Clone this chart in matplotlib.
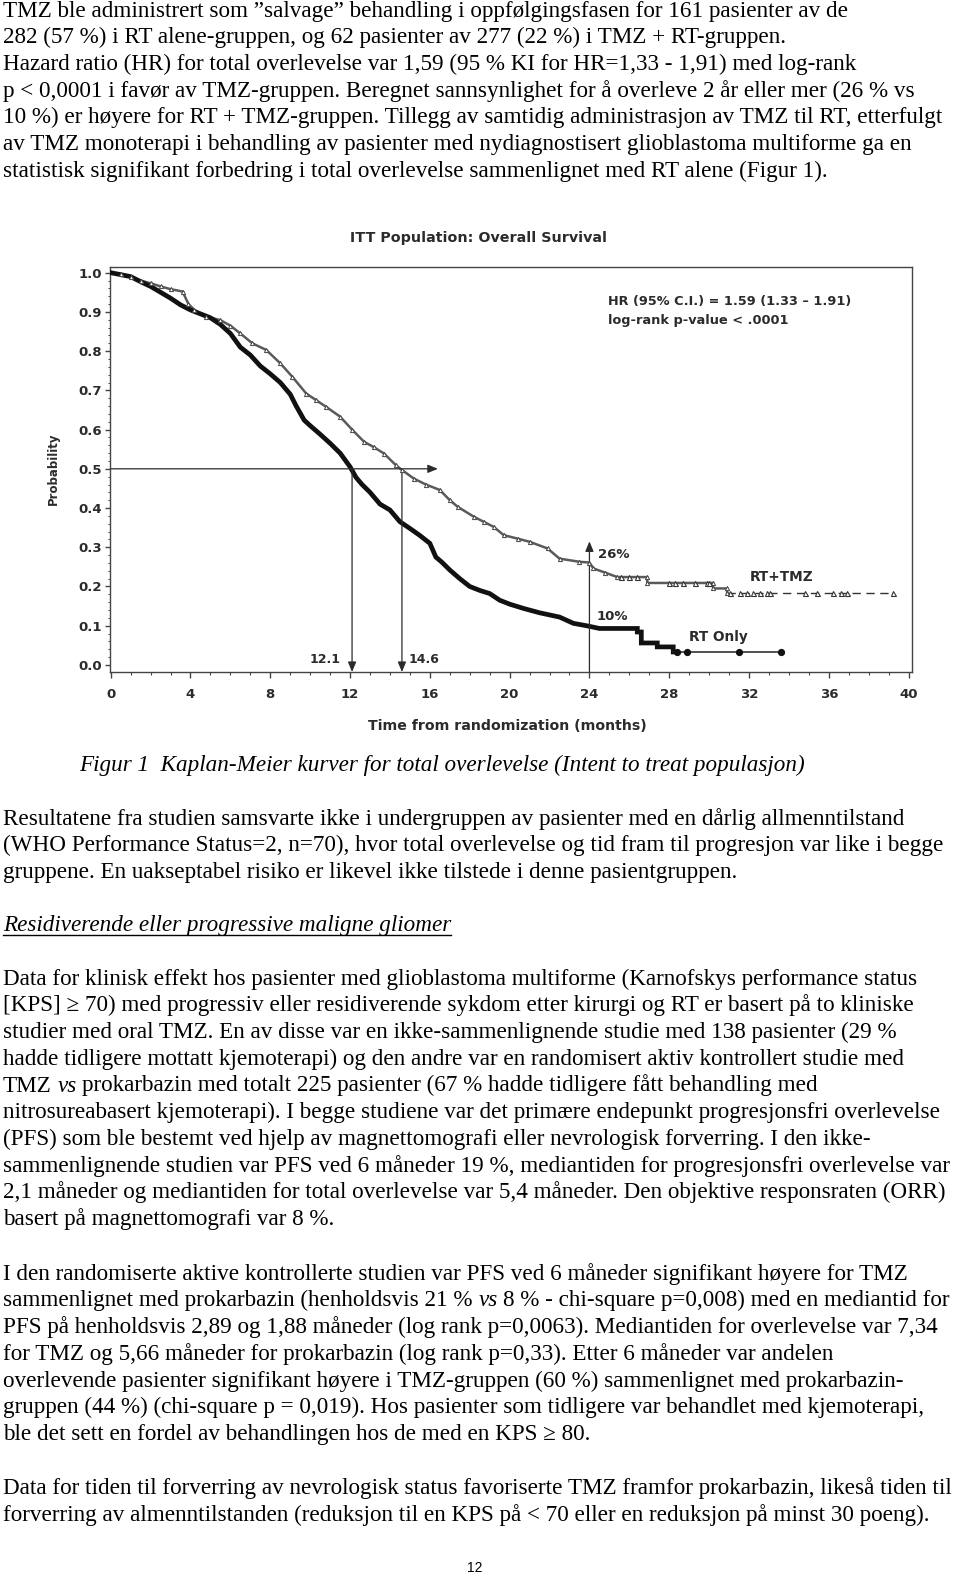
import matplotlib
matplotlib.use('Agg')
import matplotlib.pyplot as plt
from matplotlib.lines import Line2D
from matplotlib.ticker import MultipleLocator

W, H = 960, 1578
SERIF = ['Liberation Serif', 'DejaVu Serif']
SANS = ['DejaVu Sans']
BODY = 16.65
PITCH = 26.7

# ---- DATA ----
rt_time = [0, 0.5, 1.0, 1.5, 2.0, 2.5, 3.0, 3.5, 4.0, 4.5, 5.0, 5.5, 6.0, 6.5,
           7.0, 7.5, 8.0, 8.5, 9.0, 9.3, 9.7, 10.0, 10.5, 11.0, 11.5, 12.0,
           12.3, 12.6, 13.0, 13.5, 14.0, 14.5, 15.0, 15.5, 16.0, 16.3, 16.6,
           17.0, 17.5, 18.0, 18.5, 19.0, 19.5, 20.0, 20.7, 21.5, 22.5, 23.2,
           23.9, 24.5, 26.2, 26.4, 26.4, 26.6, 26.6, 27.4, 27.4, 28.2, 28.2]
rt_surv = [1.0, 0.995, 0.99, 0.977, 0.965, 0.95, 0.935, 0.918, 0.905, 0.895,
           0.885, 0.868, 0.845, 0.81, 0.79, 0.762, 0.742, 0.72, 0.69, 0.66,
           0.624, 0.61, 0.588, 0.565, 0.54, 0.505, 0.478, 0.46, 0.44, 0.41,
           0.395, 0.365, 0.348, 0.33, 0.31, 0.275, 0.262, 0.242, 0.22, 0.20,
           0.19, 0.182, 0.165, 0.155, 0.144, 0.133, 0.122, 0.106, 0.0995,
           0.093, 0.093, 0.093, 0.084, 0.084, 0.056, 0.056, 0.046, 0.046,
           0.033]
rt_censor = [28.4, 28.9, 31.5, 33.6]

tmz_time = [0, 0.5, 1.0, 1.5, 2.0, 2.5, 3.0, 3.6, 3.9, 4.2, 4.8, 5.5, 6.0,
            6.5, 7.1, 7.8, 8.5, 9.1, 9.8, 10.3, 10.8, 11.5, 12.1, 12.7, 13.2,
            13.7, 14.3, 14.6, 15.2, 15.8, 16.5, 17.0, 17.4, 18.2, 18.7, 19.2,
            19.7, 20.4, 21.0, 21.9, 22.5, 23.5, 24.0, 24.2, 24.8, 25.4, 26.9,
            26.9, 30.2, 30.2, 30.9, 30.9]
tmz_surv = [1.0, 0.997, 0.99, 0.98, 0.973, 0.965, 0.958, 0.952, 0.92, 0.905,
            0.888, 0.879, 0.865, 0.845, 0.82, 0.803, 0.769, 0.735, 0.692,
            0.675, 0.658, 0.633, 0.60, 0.569, 0.555, 0.539, 0.509, 0.497,
            0.475, 0.46, 0.446, 0.42, 0.403, 0.378, 0.365, 0.352, 0.331,
            0.322, 0.314, 0.297, 0.271, 0.263, 0.261, 0.246, 0.235, 0.224,
            0.224, 0.209, 0.209, 0.195, 0.195, 0.184]
tmz_censor = [25.6, 26.0, 26.4, 28.0, 28.3, 28.7, 29.3, 29.9, 30.0, 31.04,
              31.55, 31.88, 32.21, 32.55, 32.88, 33.05, 34.8, 35.4, 36.2,
              36.6, 36.9, 39.2]

median_rt = 12.1
median_tmz = 14.6
landmark = 24
landmark_top = 0.315
median_arrow_end = 16.4
x_ticks = list(range(0, 41, 4))
y_ticks = [0.0, 0.1, 0.2, 0.3, 0.4, 0.5, 0.6, 0.7, 0.8, 0.9, 1.0]

# ---- PAGE TEXT ----
para1 = [
    "TMZ ble administrert som \u201dsalvage\u201d behandling i oppfølgingsfasen for 161 pasienter av de",
    "282 (57 %) i RT alene-gruppen, og 62 pasienter av 277 (22 %) i TMZ + RT-gruppen.",
    "Hazard ratio (HR) for total overlevelse var 1,59 (95 % KI for HR=1,33 - 1,91) med log-rank",
    "p < 0,0001 i favør av TMZ-gruppen. Beregnet sannsynlighet for å overleve 2 år eller mer (26 % vs",
    "10 %) er høyere for RT + TMZ-gruppen. Tillegg av samtidig administrasjon av TMZ til RT, etterfulgt",
    "av TMZ monoterapi i behandling av pasienter med nydiagnostisert glioblastoma multiforme ga en",
    "statistisk signifikant forbedring i total overlevelse sammenlignet med RT alene (Figur 1).",
]
caption = "Figur 1  Kaplan-Meier kurver for total overlevelse (Intent to treat populasjon)"
para2 = [
    "Resultatene fra studien samsvarte ikke i undergruppen av pasienter med en dårlig allmenntilstand",
    "(WHO Performance Status=2, n=70), hvor total overlevelse og tid fram til progresjon var like i begge",
    "gruppene. En uakseptabel risiko er likevel ikke tilstede i denne pasientgruppen.",
]
heading = "Residiverende eller progressive maligne gliomer"
para3 = [
    "Data for klinisk effekt hos pasienter med glioblastoma multiforme (Karnofskys performance status",
    "[KPS] \u2265 70) med progressiv eller residiverende sykdom etter kirurgi og RT er basert på to kliniske",
    "studier med oral TMZ. En av disse var en ikke-sammenlignende studie med 138 pasienter (29 %",
    "hadde tidligere mottatt kjemoterapi) og den andre var en randomisert aktiv kontrollert studie med",
    [("TMZ", 'normal'), ("vs", 'italic'),
     ("prokarbazin med totalt 225 pasienter (67 % hadde tidligere fått behandling med", 'normal')],
    "nitrosureabasert kjemoterapi). I begge studiene var det primære endepunkt progresjonsfri overlevelse",
    "(PFS) som ble bestemt ved hjelp av magnettomografi eller nevrologisk forverring. I den ikke-",
    "sammenlignende studien var PFS ved 6 måneder 19 %, mediantiden for progresjonsfri overlevelse var",
    "2,1 måneder og mediantiden for total overlevelse var 5,4 måneder. Den objektive responsraten (ORR)",
    "basert på magnettomografi var 8 %.",
]
para4 = [
    "I den randomiserte aktive kontrollerte studien var PFS ved 6 måneder signifikant høyere for TMZ",
    [("sammenlignet med prokarbazin (henholdsvis 21 %", 'normal'), ("vs", 'italic'),
     ("8 % - chi-square p=0,008) med en mediantid for", 'normal')],
    "PFS på henholdsvis 2,89 og 1,88 måneder (log rank p=0,0063). Mediantiden for overlevelse var 7,34",
    "for TMZ og 5,66 måneder for prokarbazin (log rank p=0,33). Etter 6 måneder var andelen",
    "overlevende pasienter signifikant høyere i TMZ-gruppen (60 %) sammenlignet med prokarbazin-",
    "gruppen (44 %) (chi-square p = 0,019). Hos pasienter som tidligere var behandlet med kjemoterapi,",
    "ble det sett en fordel av behandlingen hos de med en KPS \u2265 80.",
]
para5 = [
    "Data for tiden til forverring av nevrologisk status favoriserte TMZ framfor prokarbazin, likeså tiden til",
    "forverring av almenntilstanden (reduksjon til en KPS på < 70 eller en reduksjon på minst 30 poeng).",
]

fig = plt.figure(figsize=(W / 100, H / 100), dpi=100)
renderer = fig.canvas.get_renderer()


def fy(y):
    return 1 - y / H


def space_width():
    a = fig.text(0, 0, 'x x', fontsize=BODY, family=SERIF)
    b = fig.text(0, 0, 'xx', fontsize=BODY, family=SERIF)
    w = a.get_window_extent(renderer).width - b.get_window_extent(renderer).width
    a.remove()
    b.remove()
    return w


SPACE = space_width()


def put_line(line, y_base, x0=3, style='normal'):
    if isinstance(line, str):
        return fig.text(x0 / W, fy(y_base), line, fontsize=BODY, family=SERIF,
                        style=style, va='baseline', ha='left')
    x = x0
    for txt, st in line:
        t = fig.text(x / W, fy(y_base), txt, fontsize=BODY, family=SERIF,
                     style=st, va='baseline', ha='left')
        x += t.get_window_extent(renderer).width + SPACE
    return None


def put_para(lines, first_base):
    for i, line in enumerate(lines):
        put_line(line, first_base + i * PITCH)


put_para(para1, 16.7)
put_line(caption, 770.5, x0=79, style='italic')
put_para(para2, 824.7)
ht = put_line(heading, 931.5, style='italic')
hw = ht.get_window_extent(renderer).width
fig.add_artist(Line2D([3 / W, (3 + hw) / W], [fy(935), fy(935)],
                      color='black', lw=1.0))
put_para(para3, 984.7)
put_para(para4, 1279.7)
put_para(para5, 1494.0)
fig.text(475 / W, fy(1568.5), "12", fontsize=10, family=['Liberation Sans'],
         ha='center', va='center')

# ---- KAPLAN-MEIER CHART ----
ax = fig.add_axes([109.5 / W, fy(672), (912 - 109.5) / W, (672 - 267) / H])
ax.set_xlim(-0.06, 40.17)
ax.set_ylim(-0.018, 1.0145)
dark = '#2b2b2b'
for sp in ax.spines.values():
    sp.set_color('#444444')
    sp.set_linewidth(1.0)


def surv_at(times, survs, t):
    s = survs[0]
    for ti, si in zip(times, survs):
        if ti <= t:
            s = si
    return s


# RT + TMZ
ax.plot(tmz_time, tmz_surv, color='#5a5a5a', lw=1.8, zorder=3)
ax.plot(tmz_time[1:], tmz_surv[1:], ls='none', marker='^', ms=3.0, mfc='white',
        mec='#444444', mew=0.7, zorder=4)
ax.plot([tmz_time[-1], tmz_censor[-1]], [tmz_surv[-1]] * 2, color='#333333',
        lw=1.0, ls=(0, (6, 4)), zorder=3)
ax.plot(tmz_censor, [surv_at(tmz_time, tmz_surv, t) for t in tmz_censor],
        ls='none', marker='^', ms=3.6, mfc='white', mec='#333333', mew=0.8,
        zorder=4)

# RT only
ax.plot(rt_time, rt_surv, color='#111111', lw=3.4, zorder=3,
        solid_joinstyle='miter')
ax.plot([rt_time[-1], rt_censor[-1]], [rt_surv[-1]] * 2, color='#222222',
        lw=1.1, zorder=3)
ax.plot(rt_censor, [surv_at(rt_time, rt_surv, t) for t in rt_censor],
        ls='none', marker='o', ms=4.2, color='#111111', zorder=4)

# median and landmark arrows
arrow = dict(arrowstyle='-|>,head_length=0.6,head_width=0.25', color=dark,
             lw=0.9, shrinkA=0, shrinkB=0, mutation_scale=10)
ybot = ax.get_ylim()[0]
ax.annotate('', xy=(median_arrow_end, 0.5), xytext=(0, 0.5), arrowprops=arrow)
ax.annotate('', xy=(median_rt, ybot), xytext=(median_rt, 0.5), arrowprops=arrow)
ax.annotate('', xy=(median_tmz, ybot), xytext=(median_tmz, 0.5), arrowprops=arrow)
ax.annotate('', xy=(landmark, landmark_top), xytext=(landmark, ybot),
            arrowprops=arrow)

lab = dict(family=SANS, fontweight='bold', color=dark)
ax.text(11.5, 0.015, f"{median_rt}", ha='right', va='center', fontsize=9, **lab)
ax.text(14.92, 0.015, f"{median_tmz}", ha='left', va='center', fontsize=9, **lab)
ax.text(24.43, 0.282, "26%", ha='left', va='center', fontsize=9.5, **lab)
ax.text(24.36, 0.124, "10%", ha='left', va='center', fontsize=9.5, **lab)
ax.text(32.05, 0.2245, "RT+TMZ", ha='left', va='center', fontsize=9.8, **lab)
ax.text(29.0, 0.070, "RT Only", ha='left', va='center', fontsize=9.8, **lab)
ax.text(24.95, 0.926, "HR (95% C.I.) = 1.59 (1.33 \u2013 1.91)", ha='left',
        va='center', fontsize=9.3, **lab)
ax.text(24.95, 0.879, "log-rank p-value < .0001", ha='left', va='center',
        fontsize=9.3, **lab)

ax.set_xticks(x_ticks)
ax.set_yticks(y_ticks)
ax.set_yticklabels([f"{v:.1f}" for v in y_ticks])
ax.xaxis.set_minor_locator(MultipleLocator(1))
ax.yaxis.set_minor_locator(MultipleLocator(0.02))
ax.tick_params(axis='x', which='major', direction='out', length=4.3, width=1,
               color='#444444', pad=7, labelsize=9.5)
ax.tick_params(axis='x', which='minor', direction='out', length=2.2, width=0.8,
               color='#444444')
ax.tick_params(axis='y', which='major', direction='out', length=3.6, width=1,
               color='#444444', pad=2, labelsize=9.5)
ax.tick_params(axis='y', which='minor', direction='out', length=1.8, width=0.7,
               color='#444444')
for t in ax.get_xticklabels() + ax.get_yticklabels():
    t.set_fontweight('bold')
    t.set_color(dark)

fig.text(350 / W, fy(238.3), "ITT Population: Overall Survival", ha='left',
         va='center', fontsize=10.3, fontweight='bold', family=SANS, color=dark)
fig.text(507 / W, fy(726.5), "Time from randomization (months)", ha='center',
         va='center', fontsize=10.2, fontweight='bold', family=SANS, color=dark)
fig.text(53 / W, fy(469), "Probability", ha='center', va='center', rotation=90,
         fontsize=8.5, fontweight='bold', family=SANS, color=dark)

fig.savefig('out.png', dpi=100)
